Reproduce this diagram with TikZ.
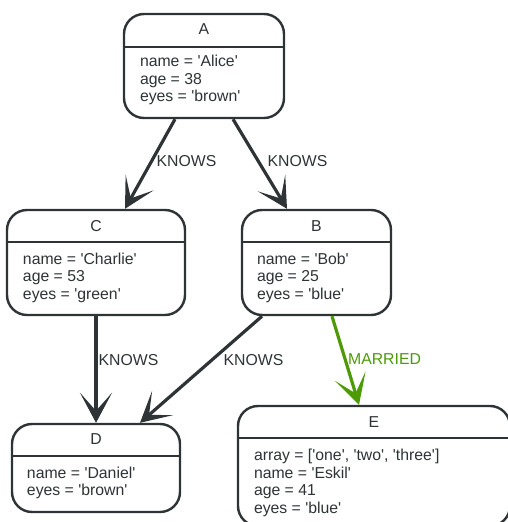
\documentclass[tikz,border=0pt]{standalone}
\usepackage{fontspec}
\newfontfamily\lsans{Liberation Sans}
\usetikzlibrary{arrows.meta}
\definecolor{ink}{HTML}{2E3436}
\definecolor{wed}{HTML}{4E9A06}
\begin{document}
\begin{tikzpicture}[x=1pt,y=-1pt,
  every node/.style={font=\lsans\fontsize{15.8}{17.5}\selectfont, text=ink},
  entity/.style={draw=ink, line width=2.4pt, rounded corners=20pt, rectangle,
                 inner sep=0pt, fill=white},
  rule/.style={draw=ink, line width=2.4pt},
  title/.style={inner sep=0pt},
  props/.style={inner sep=0pt, align=left, anchor=west},
  rel/.style={draw=ink, line width=3.2pt,
              -{Stealth[length=30pt,width=32pt,inset=18pt]}},
  tag/.style={inner sep=0pt, anchor=west}
]
\useasboundingbox (0,0) rectangle (508,522);
\clip (0,0) rectangle (508,522);

% --- A ---
\node[entity, minimum width=160pt, minimum height=104pt] (A) at (204,66) {};
\draw[rule] ([yshift=-34pt]A.north west) -- ([yshift=-34pt]A.north east);
\node[title] (A-t) at ([yshift=-16pt]A.north) {A};
\node[props] (A-b) at ([xshift=17pt,yshift=-67.5pt]A.north west)
  {name = 'Alice'\\age = 38\\eyes = 'brown'};

% --- C ---
\node[entity, minimum width=178pt, minimum height=105pt] (C) at (96,262.5) {};
\draw[rule] ([yshift=-33pt]C.north west) -- ([yshift=-33pt]C.north east);
\node[title] (C-t) at ([yshift=-17pt]C.north) {C};
\node[props] (C-b) at ([xshift=17pt,yshift=-69pt]C.north west)
  {name = 'Charlie'\\age = 53\\eyes = 'green'};

% --- B ---
\node[entity, minimum width=149pt, minimum height=105pt] (B) at (316.5,262.5) {};
\draw[rule] ([yshift=-33pt]B.north west) -- ([yshift=-33pt]B.north east);
\node[title] (B-t) at ([yshift=-17pt]B.north) {B};
\node[props] (B-b) at ([xshift=16pt,yshift=-69pt]B.north west)
  {name = 'Bob'\\age = 25\\eyes = 'blue'};

% --- D ---
\node[entity, minimum width=168pt, minimum height=88pt] (D) at (96,468) {};
\draw[rule] ([yshift=-33pt]D.north west) -- ([yshift=-33pt]D.north east);
\node[title] (D-t) at ([yshift=-16pt]D.north) {D};
\node[props] (D-b) at ([xshift=16pt,yshift=-60pt]D.north west)
  {name = 'Daniel'\\eyes = 'brown'};

% --- E ---
\node[entity, minimum width=272pt, minimum height=120pt] (E) at (374,466) {};
\draw[rule] ([yshift=-33pt]E.north west) -- ([yshift=-33pt]E.north east);
\node[title] (E-t) at ([yshift=-17pt]E.north) {E};
\node[props] (E-b) at ([xshift=17pt,yshift=-78pt]E.north west)
  {array = ['one', 'two', 'three']\\name = 'Eskil'\\age = 41\\eyes = 'blue'};

% --- relationships ---
\draw[rel] ([xshift=-29pt]A.south) --
  node[tag, xshift=5pt, yshift=2.5pt] (AC) {KNOWS} ([xshift=29pt]C.north);
\draw[rel] ([xshift=29pt]A.south) --
  node[tag, xshift=6pt, yshift=2.5pt] (AB) {KNOWS} ([xshift=-29.5pt]B.north);
\draw[rel] (C.south) --
  node[tag, xshift=1pt, yshift=9pt] (CD) {KNOWS} (D.north);
\draw[rel] ([xshift=-54.5pt]B.south) --
  node[tag, xshift=21pt, yshift=9pt] (BD) {KNOWS} ([xshift=44pt]D.north);
\draw[rel, draw=wed] ([xshift=15.5pt]B.south) --
  node[tag, text=wed, xshift=1pt, yshift=1.5pt] (BE) {MARRIED} ([xshift=-15pt]E.north);
\end{tikzpicture}
\end{document}
